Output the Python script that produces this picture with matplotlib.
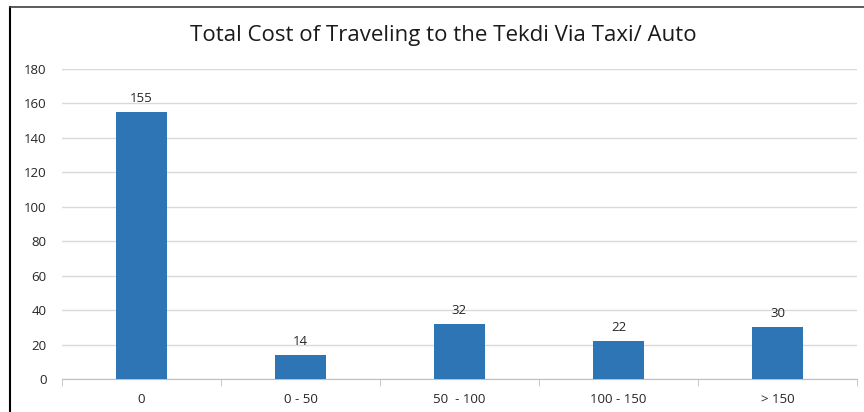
import matplotlib.pyplot as plt
from matplotlib.lines import Line2D

# data
categories = ["0", "0 - 50", "50  - 100", "100 - 150", "> 150"]
counts = [155, 14, 32, 22, 30]

plt.rcParams["font.family"] = ["Open Sans", "DejaVu Sans"]

fig = plt.figure(figsize=(8.64, 4.12), dpi=100)
ax = fig.add_axes([62 / 864, 1 - 379 / 412, 795 / 864, 310 / 412])

x = range(len(categories))
bars = ax.bar(x, counts, width=0.315, color="#2E75B6", zorder=3)

for b, v in zip(bars, counts):
    ax.text(b.get_x() + b.get_width() / 2, v + 4, str(v),
            ha="center", va="bottom", fontsize=9.5, color="#262626")

ax.set_ylim(0, 180)
ax.set_xlim(-0.5, len(categories) - 0.5)
ax.set_yticks(range(0, 181, 20))
ax.set_xticks(list(x))
ax.set_xticklabels(categories)
ax.tick_params(axis="y", length=0, labelsize=9.5, labelcolor="#262626", pad=11)
ax.tick_params(axis="x", length=0, labelsize=9.5, labelcolor="#262626", pad=10)

# category separator ticks
ax.set_xticks([i - 0.5 for i in range(len(categories) + 1)], minor=True)
ax.tick_params(axis="x", which="minor", length=5, color="#BFBFBF")

ax.grid(axis="y", color="#D9D9D9", linewidth=1, zorder=0)
for s in ["top", "right", "left"]:
    ax.spines[s].set_visible(False)
ax.spines["bottom"].set_color("#BFBFBF")

fig.text(443 / 864, 1 - 35 / 412, "Total Cost of Traveling to the Tekdi Via Taxi/ Auto",
         ha="center", va="center", fontsize=16, color="#1a1a1a")

# outer frame from the scan
fig.add_artist(Line2D([10 / 864, 10 / 864], [0, 1 - 7 / 412],
                      transform=fig.transFigure, color="black", linewidth=1.5))
fig.add_artist(Line2D([10 / 864, 1], [1 - 7 / 412, 1 - 7 / 412],
                      transform=fig.transFigure, color="#404040", linewidth=1.2))

fig.savefig("out.png", dpi=100)
